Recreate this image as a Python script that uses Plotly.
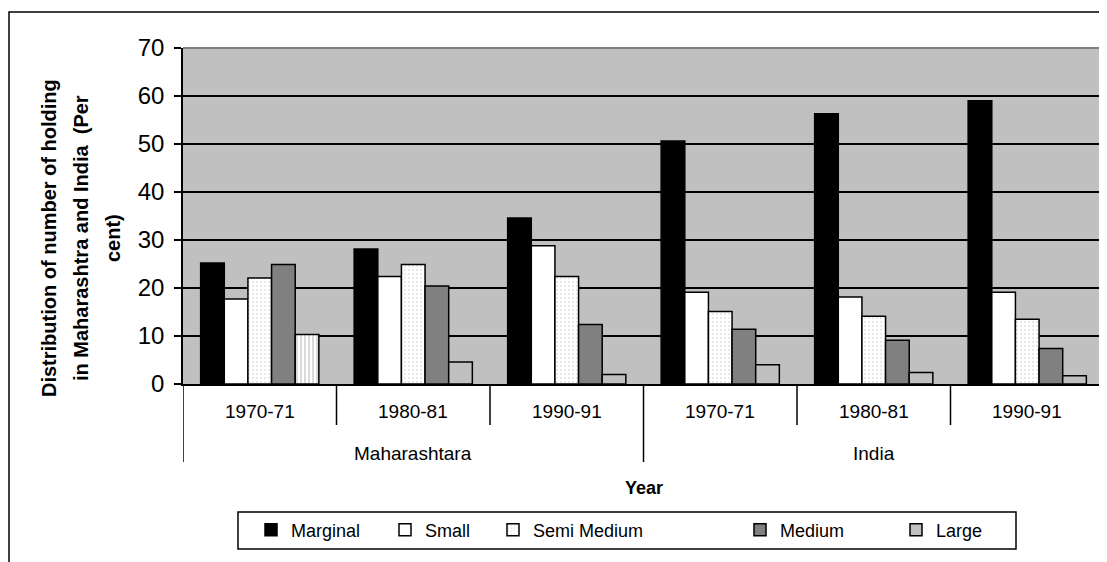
import plotly.graph_objects as go

groups = ["Maharashtara", "India"]
years = ["1970-71", "1980-81", "1990-91"]
categories = [g + " " + y for g in groups for y in years]

marginal = [25.2, 28.1, 34.6, 50.6, 56.3, 59.0]
small = [17.7, 22.4, 28.8, 19.1, 18.1, 19.1]
semi_medium = [22.1, 24.9, 22.4, 15.1, 14.1, 13.5]
medium = [24.9, 20.4, 12.4, 11.4, 9.1, 7.4]
large = [10.3, 4.6, 2.0, 4.0, 2.4, 1.7]

series_names = ["Marginal", "Small", "Semi Medium", "Medium", "Large"]
y_ticks = [0, 10, 20, 30, 40, 50, 60, 70]
y_title_lines = ["Distribution of number of holding", "in Maharashtra and India  (Per", "cent)"]

FONT = "Liberation Sans, Arial, sans-serif"
BG = "#C0C0C0"

# page has an 8px body margin; work in page pixels
OFF = 8
W, H = 1107 - OFF, 562 - OFF
PL, PR, PT, PB = 183, 1104, 48, 384          # plot area in page px
L, T = PL - OFF, PT - OFF
R = W - (PR - OFF)
B = H - (PB - OFF)
PW, PH = PR - PL, PB - PT


def px_x(px):
    return (px - PL) / PW


def px_y(py):
    return (PB - py) / PH


fig = go.Figure()

n = 5
bw = 0.77 / n
start = -0.385

styles = [
    dict(color="black"),
    dict(color="white"),
    dict(color="white", pattern=dict(shape=".", fgcolor="#C4C4C4", bgcolor="white",
                                    size=4, solidity=0.2, fillmode="overlay")),
    dict(color="#808080"),
    dict(color=["white", BG, BG, BG, BG, BG],
         pattern=dict(shape=["|", "", "", "", "", ""], fgcolor="#C0C0C0",
                      size=4, solidity=0.2, fillmode="overlay")),
]
values = [marginal, small, semi_medium, medium, large]
legend_ids = ["legend", "legend2", "legend3", "legend4", "legend5"]

for i, (name, vals, st) in enumerate(zip(series_names, values, styles)):
    marker = dict(st)
    marker["line"] = dict(color="black", width=1.5)
    fig.add_trace(go.Bar(
        x=categories, y=vals, name=name, marker=marker,
        width=bw, offset=start + i * bw,
        showlegend=(name != "Large"), legend=legend_ids[i],
    ))

# legend-only entry for Large (solid gray swatch as in the original legend)
fig.add_trace(go.Bar(
    x=[categories[0]], y=[None], name="Large",
    marker=dict(color=BG, line=dict(color="black", width=1.5)),
    width=bw, offset=start + 4 * bw, showlegend=True, legend="legend5",
))

shapes = []
# outer chart border
shapes.append(dict(type="rect", xref="paper", yref="paper",
                   x0=px_x(9), x1=px_x(1115), y0=px_y(12), y1=px_y(575),
                   line=dict(color="black", width=1.5), fillcolor="rgba(0,0,0,0)",
                   layer="below"))
# legend box
shapes.append(dict(type="rect", xref="paper", yref="paper",
                   x0=px_x(238), x1=px_x(1016), y0=px_y(512), y1=px_y(549),
                   line=dict(color="black", width=1.5), fillcolor="white",
                   layer="below"))
# plot-area frame (grey, top and right)
shapes.append(dict(type="line", xref="paper", yref="paper", x0=0, x1=1, y0=1, y1=1,
                   line=dict(color="#808080", width=2)))
shapes.append(dict(type="line", xref="paper", yref="paper", x0=1, x1=1, y0=0, y1=1,
                   line=dict(color="#808080", width=2)))
# category dividers
for k in range(0, 7):
    bot = px_y(462) if k in (0, 3, 6) else px_y(425)
    shapes.append(dict(type="line", xref="x", yref="paper", x0=k - 0.5, x1=k - 0.5,
                       y0=0, y1=bot, line=dict(color="black", width=1.5)))

annotations = []
for k, c in enumerate(categories):
    annotations.append(dict(x=k, xref="x", y=px_y(411), yref="paper",
                            xanchor="center", yanchor="middle",
                            text=years[k % 3], showarrow=False,
                            font=dict(family=FONT, size=19, color="black")))
for gi, g in enumerate(groups):
    annotations.append(dict(x=gi * 3 + 1, xref="x", y=px_y(453), yref="paper",
                            xanchor="center", yanchor="middle",
                            text=g, showarrow=False,
                            font=dict(family=FONT, size=19, color="black")))
annotations.append(dict(x=0.5, xref="paper", y=px_y(488), yref="paper",
                        xanchor="center", yanchor="middle",
                        text="<b>Year</b>", showarrow=False,
                        font=dict(family=FONT, size=18, color="black")))
for line, xc in zip(y_title_lines, [49, 81, 113]):
    annotations.append(dict(x=px_x(xc), xref="paper", y=px_y(238), yref="paper",
                            xanchor="center", yanchor="middle",
                            text="<b>" + line + "</b>", showarrow=False, textangle=-90,
                            font=dict(family=FONT, size=20, color="black")))

legend_swatch_x = [271, 405, 513, 760, 916]
legend_common = dict(orientation="h", xanchor="left", yanchor="middle", y=px_y(530),
                     bgcolor="rgba(0,0,0,0)", borderwidth=0,
                     font=dict(family=FONT, size=18, color="black"))
legends = {}
for lid, sx in zip(legend_ids, legend_swatch_x):
    legends[lid] = dict(legend_common, x=px_x(sx - 20))

fig.update_layout(
    width=W, height=H,
    margin=dict(l=L, r=R, t=T, b=B),
    paper_bgcolor="white",
    plot_bgcolor=BG,
    barmode="overlay",
    font=dict(family=FONT, color="black"),
    showlegend=True,
    xaxis=dict(type="category", range=[-0.5, 5.5], showticklabels=False, ticks="",
               showgrid=False, zeroline=False, showline=True, linecolor="black", linewidth=1.5),
    yaxis=dict(range=[0, 70], tickvals=y_ticks, ticks="outside", ticklen=7, tickwidth=1.5,
               tickcolor="black", showline=True, linecolor="black", linewidth=1.5,
               showgrid=True, gridcolor="black", gridwidth=1.5, zeroline=False,
               ticklabelstandoff=5,
               tickfont=dict(family=FONT, size=24, color="black")),
    shapes=shapes,
    annotations=annotations,
    **legends,
)

fig.write_html("out.html")
